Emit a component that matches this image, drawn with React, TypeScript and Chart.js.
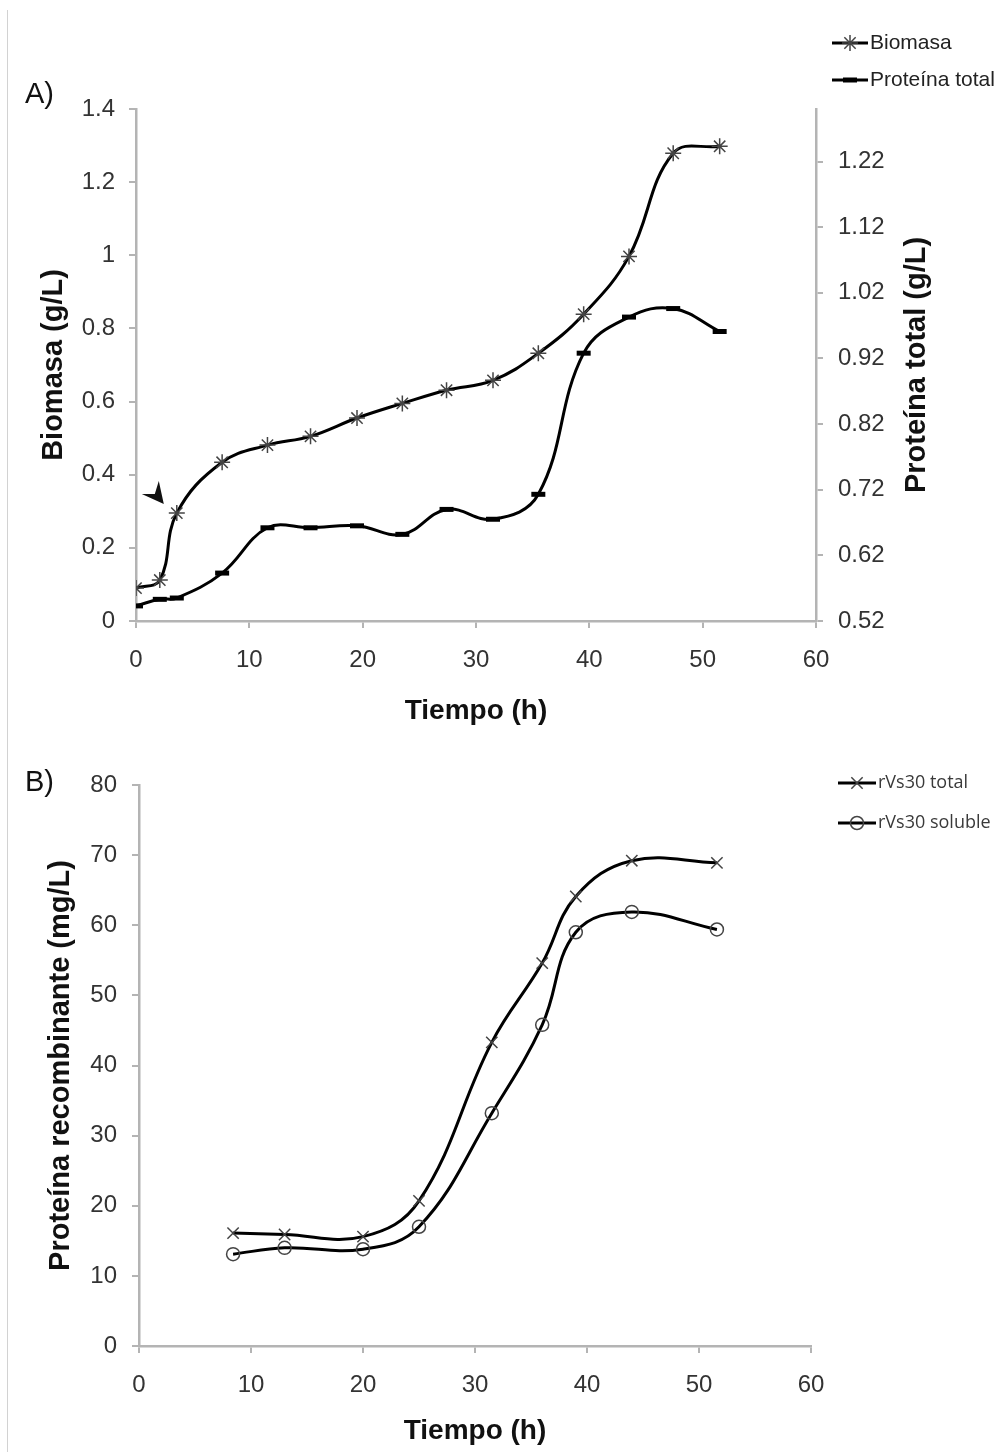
import React, { useEffect, useRef } from "react";
import { Chart, registerables } from "chart.js";
import { drawPoint } from "chart.js/helpers";

Chart.register(...registerables);

const FONT = "'Liberation Sans', Arial, Helvetica, sans-serif";
const LEGEND_FONT_B = "'Open Sans', 'Noto Sans', sans-serif";
const AXIS = "#b4b4b4";
const TICK = "#333333";
const TITLE = "#111111";

// ---------- Panel A data ----------
const timeA = [0, 2.1, 3.6, 7.6, 11.6, 15.4, 19.5, 23.5, 27.4, 31.5, 35.5, 39.5, 43.5, 47.4, 51.5];
const biomasa = [0.09, 0.112, 0.295, 0.434, 0.481, 0.505, 0.555, 0.595, 0.631, 0.658, 0.732, 0.839, 0.997, 1.279, 1.298];
const proteinaTotal = [0.543, 0.553, 0.555, 0.593, 0.662, 0.662, 0.665, 0.652, 0.69, 0.675, 0.713, 0.928, 0.983, 0.996, 0.961];
const xTicksA = [0, 10, 20, 30, 40, 50, 60];
const biomasaTicks = [0, 0.2, 0.4, 0.6, 0.8, 1, 1.2, 1.4];
const proteinaTicks = [0.52, 0.62, 0.72, 0.82, 0.92, 1.02, 1.12, 1.22];

// ---------- Panel B data ----------
const timeB = [8.4, 13, 20, 25, 31.5, 36, 39, 44, 51.6];
const rvsTotal = [16.1, 15.9, 15.6, 20.7, 43.3, 54.6, 64.1, 69.2, 68.9];
const rvsSoluble = [13.1, 14.0, 13.8, 17.0, 33.2, 45.8, 59.0, 61.9, 59.4];
const xTicksB = [0, 10, 20, 30, 40, 50, 60];
const yTicksB = [0, 10, 20, 30, 40, 50, 60, 70, 80];

const fmt = (v: number) => String(+Number(v).toFixed(2));

const setTicks = (vals: number[]) => (s: any) => {
  s.ticks = vals.map((v) => ({ value: v }));
};
const fitW = (w: number) => (s: any) => {
  s.width = w;
  s.paddingTop = 0;
  s.paddingBottom = 0;
};
const fitH = (h: number) => (s: any) => {
  s.height = h;
  s.paddingLeft = 0;
  s.paddingRight = 0;
};

const legendPlugin = {
  id: "lineLegend",
  afterDraw(chart: any, _args: any, opts: any) {
    const { ctx } = chart;
    const items = (opts && opts.items) || [];
    ctx.save();
    items.forEach((it: any) => {
      const ds = chart.data.datasets[it.dataset];
      ctx.strokeStyle = "#000";
      ctx.lineWidth = 3;
      ctx.beginPath();
      ctx.moveTo(it.x0, it.y);
      ctx.lineTo(it.x1, it.y);
      ctx.stroke();
      ctx.strokeStyle = ds.pointBorderColor;
      ctx.fillStyle = ds.pointBackgroundColor;
      ctx.lineWidth = ds.pointBorderWidth;
      drawPoint(
        ctx,
        { pointStyle: ds.pointStyle, radius: ds.pointRadius, borderWidth: ds.pointBorderWidth, rotation: 0 } as any,
        (it.x0 + it.x1) / 2,
        it.y
      );
      ctx.fillStyle = it.color;
      ctx.font = it.font;
      ctx.textAlign = "left";
      ctx.textBaseline = "middle";
      ctx.fillText(ds.label, it.x1 + 2, it.y);
    });
    ctx.restore();
  },
};

const extrasA = {
  id: "extrasA",
  afterDraw(chart: any) {
    const { ctx, chartArea, scales } = chart;
    ctx.save();
    // right axis title (reads bottom-to-top)
    ctx.translate(chartArea.right + 101, (chartArea.top + chartArea.bottom) / 2);
    ctx.rotate(-Math.PI / 2);
    ctx.font = `bold 29px ${FONT}`;
    ctx.fillStyle = TITLE;
    ctx.textAlign = "center";
    ctx.textBaseline = "middle";
    ctx.fillText("Proteína total (g/L)", 0, 0);
    ctx.restore();

    ctx.save();
    ctx.font = `29px ${FONT}`;
    ctx.fillStyle = "#111";
    ctx.textAlign = "left";
    ctx.textBaseline = "middle";
    ctx.fillText("A)", 25, 95);
    ctx.restore();

    // arrowhead pointing at the third biomass point
    const px = scales.x.getPixelForValue(timeA[2]);
    const py = scales.y.getPixelForValue(biomasa[2]);
    ctx.save();
    ctx.fillStyle = "#111";
    ctx.beginPath();
    ctx.moveTo(px - 13, py - 9);
    ctx.lineTo(px - 35, py - 19);
    ctx.lineTo(px - 22, py - 19);
    ctx.lineTo(px - 18, py - 32);
    ctx.closePath();
    ctx.fill();
    ctx.restore();
  },
};

const extrasB = {
  id: "extrasB",
  afterDraw(chart: any) {
    const { ctx } = chart;
    ctx.save();
    ctx.font = `29px ${FONT}`;
    ctx.fillStyle = "#111";
    ctx.textAlign = "left";
    ctx.textBaseline = "middle";
    ctx.fillText("B)", 25, 43);
    ctx.restore();
  },
};

const gridOpts = {
  display: true,
  drawOnChartArea: false,
  drawTicks: true,
  tickLength: 7,
  color: AXIS,
  lineWidth: 2,
};
const borderOpts = { display: true, color: AXIS, width: 2.5 };
const tickFont = { size: 24, family: FONT };

function makeConfigA(): any {
  return {
    type: "line",
    data: {
      datasets: [
        {
          label: "Biomasa",
          data: timeA.map((x, i) => ({ x, y: biomasa[i] })),
          yAxisID: "y",
          borderColor: "#000",
          borderWidth: 3,
          tension: 0.4,
          fill: false,
          pointStyle: "star",
          pointRadius: 8,
          pointBorderWidth: 1.5,
          pointBorderColor: "#444",
          pointBackgroundColor: "#444",
        },
        {
          label: "Proteína total",
          data: timeA.map((x, i) => ({ x, y: proteinaTotal[i] })),
          yAxisID: "y1",
          borderColor: "#000",
          borderWidth: 3,
          tension: 0.4,
          fill: false,
          pointStyle: "line",
          pointRadius: 7,
          pointBorderWidth: 5,
          pointBorderColor: "#000",
          pointBackgroundColor: "#000",
        },
      ],
    },
    options: {
      animation: false,
      responsive: false,
      devicePixelRatio: 1,
      layout: { padding: { top: 109, left: 0, right: 0, bottom: 0 } },
      plugins: {
        legend: { display: false },
        tooltip: { enabled: false },
        lineLegend: {
          items: [
            { dataset: 0, x0: 832, x1: 868, y: 43, font: `21px ${FONT}`, color: "#222" },
            { dataset: 1, x0: 832, x1: 868, y: 80, font: `21px ${FONT}`, color: "#222" },
          ],
        },
      },
      scales: {
        x: {
          type: "linear",
          min: 0,
          max: 60,
          afterBuildTicks: setTicks(xTicksA),
          afterFit: fitH(119),
          grid: gridOpts,
          border: borderOpts,
          ticks: { color: TICK, font: tickFont, padding: 18, maxRotation: 0, autoSkip: false, callback: fmt },
          title: {
            display: true,
            text: "Tiempo (h)",
            color: TITLE,
            font: { size: 28, weight: "bold", family: FONT },
            padding: { top: 0, bottom: 12 },
          },
        },
        y: {
          type: "linear",
          position: "left",
          min: 0,
          max: 1.4,
          afterBuildTicks: setTicks(biomasaTicks),
          afterFit: fitW(136),
          grid: gridOpts,
          border: borderOpts,
          ticks: { color: TICK, font: tickFont, padding: 14, autoSkip: false, callback: fmt },
          title: {
            display: true,
            text: "Biomasa (g/L)",
            color: TITLE,
            font: { size: 29, weight: "bold", family: FONT },
            padding: { top: 37, bottom: 0 },
          },
        },
        y1: {
          type: "linear",
          position: "right",
          min: 0.52,
          max: 1.3,
          afterBuildTicks: setTicks(proteinaTicks),
          afterFit: fitW(186),
          grid: gridOpts,
          border: borderOpts,
          ticks: { color: TICK, font: tickFont, padding: 15, autoSkip: false, callback: fmt },
        },
      },
    },
    plugins: [legendPlugin, extrasA],
  };
}

function makeConfigB(): any {
  return {
    type: "line",
    data: {
      datasets: [
        {
          label: "rVs30 total",
          data: timeB.map((x, i) => ({ x, y: rvsTotal[i] })),
          borderColor: "#000",
          borderWidth: 3,
          tension: 0.4,
          fill: false,
          pointStyle: "crossRot",
          pointRadius: 8,
          pointBorderWidth: 1.5,
          pointBorderColor: "#444",
          pointBackgroundColor: "#444",
        },
        {
          label: "rVs30 soluble",
          data: timeB.map((x, i) => ({ x, y: rvsSoluble[i] })),
          borderColor: "#000",
          borderWidth: 3,
          tension: 0.4,
          fill: false,
          pointStyle: "circle",
          pointRadius: 6.5,
          pointBorderWidth: 1.5,
          pointBorderColor: "#444",
          pointBackgroundColor: "rgba(0,0,0,0)",
        },
      ],
    },
    options: {
      animation: false,
      responsive: false,
      devicePixelRatio: 1,
      layout: { padding: { top: 45, left: 0, right: 191, bottom: 0 } },
      plugins: {
        legend: { display: false },
        tooltip: { enabled: false },
        lineLegend: {
          items: [
            { dataset: 0, x0: 838, x1: 876, y: 43, font: `18px ${LEGEND_FONT_B}`, color: "#3a3a3a" },
            { dataset: 1, x0: 838, x1: 876, y: 83, font: `18px ${LEGEND_FONT_B}`, color: "#3a3a3a" },
          ],
        },
      },
      scales: {
        x: {
          type: "linear",
          min: 0,
          max: 60,
          afterBuildTicks: setTicks(xTicksB),
          afterFit: fitH(106),
          grid: gridOpts,
          border: borderOpts,
          ticks: { color: TICK, font: tickFont, padding: 18, maxRotation: 0, autoSkip: false, callback: fmt },
          title: {
            display: true,
            text: "Tiempo (h)",
            color: TITLE,
            font: { size: 28, weight: "bold", family: FONT },
            padding: { top: 0, bottom: 4 },
          },
        },
        y: {
          type: "linear",
          position: "left",
          min: 0,
          max: 80,
          afterBuildTicks: setTicks(yTicksB),
          afterFit: fitW(139),
          grid: gridOpts,
          border: borderOpts,
          ticks: { color: TICK, font: tickFont, padding: 15, autoSkip: false, callback: fmt },
          title: {
            display: true,
            text: "Proteína recombinante (mg/L)",
            color: TITLE,
            font: { size: 29, weight: "bold", family: FONT },
            padding: { top: 44, bottom: 0 },
          },
        },
      },
    },
    plugins: [legendPlugin, extrasB],
  };
}

function ChartCanvas({ make, width, height, top }: { make: () => any; width: number; height: number; top: number }) {
  const ref = useRef<HTMLCanvasElement | null>(null);
  useEffect(() => {
    if (!ref.current) return;
    const chart = new Chart(ref.current, make());
    return () => chart.destroy();
  }, [make]);
  return (
    <canvas
      ref={ref}
      width={width}
      height={height}
      style={{ position: "absolute", left: 0, top, width, height, display: "block" }}
    />
  );
}

export default function App() {
  return (
    <div
      style={{
        position: "absolute",
        left: 0,
        top: 0,
        width: 1002,
        height: 1452,
        background: "#fff",
        overflow: "hidden",
      }}
    >
      <div
        style={{
          position: "absolute",
          left: 7,
          top: 10,
          bottom: 0,
          width: 0,
          borderLeft: "1.5px solid #d2d2d2",
        }}
      />
      <ChartCanvas make={makeConfigA} width={1002} height={740} top={0} />
      <ChartCanvas make={makeConfigB} width={1002} height={712} top={740} />
    </div>
  );
}
